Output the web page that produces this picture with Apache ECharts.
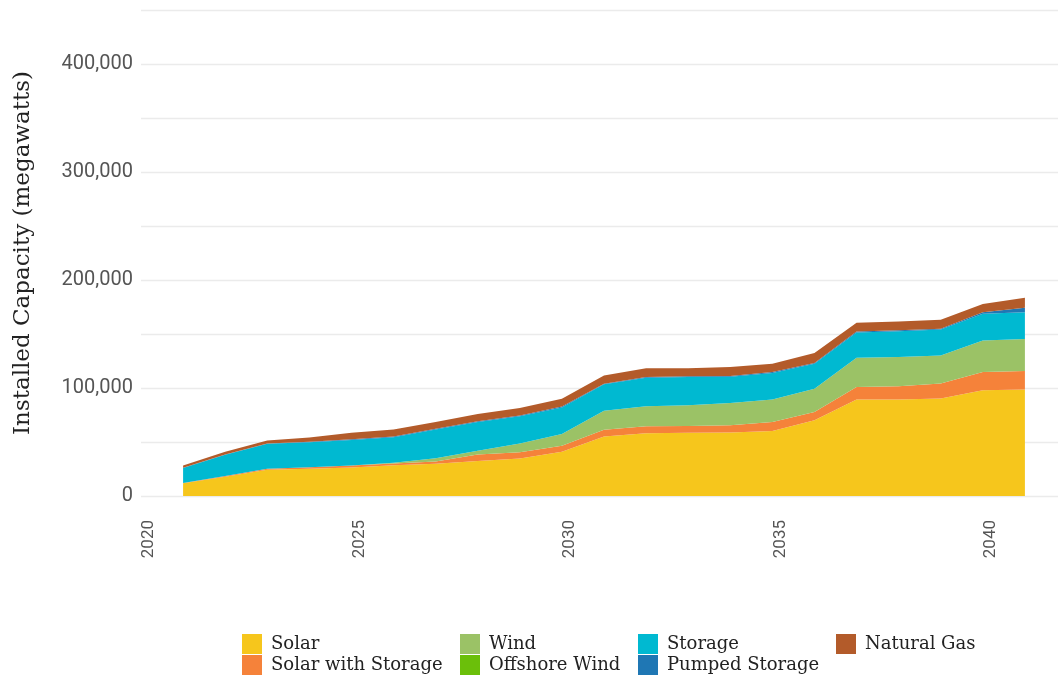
<!DOCTYPE html>
<html>
<head>
<meta charset="utf-8">
<title>Installed Capacity</title>
<script src="https://cdn.jsdelivr.net/npm/echarts@6/dist/echarts.min.js"></script>
<style>
    html, body { margin: 0; padding: 0; background: #fff; }
    #chart { width: 1058px; height: 675px; }
</style>
</head>
<body>
<div id="chart"></div>
<script>
    // years and installed capacity (MW) per resource
    var years = [2021, 2022, 2023, 2024, 2025, 2026, 2027, 2028, 2029, 2030,
                 2031, 2032, 2033, 2034, 2035, 2036, 2037, 2038, 2039, 2040, 2041];
    var solar = [11700, 17800, 24400, 25300, 26500, 28400, 29800, 32500, 34800, 41000,
                 55000, 58000, 58500, 58800, 60300, 70200, 89300, 89300, 90200, 97900, 98500];
    var solarStorage = [300, 700, 800, 1300, 1700, 1800, 2200, 6000, 5700, 5500,
                        6300, 6600, 6400, 6800, 8300, 7600, 11600, 12300, 13900, 17000, 17200];
    var offshoreWind = [0, 0, 0, 0, 0, 0, 0, 0, 0, 0, 0, 0, 0, 0, 0, 0, 0, 0, 0, 0, 0];
    var wind = [0, 0, 0, 0, 100, 500, 3000, 3500, 8100, 11000,
                17700, 18400, 19100, 20400, 20700, 21600, 27100, 27000, 26100, 29100, 29600];
    var storage = [14000, 19800, 23100, 23200, 23500, 23800, 26600, 26500, 25300, 24500,
                   24400, 26600, 26200, 24500, 24700, 23100, 23500, 24000, 23900, 24700, 24900];
    var pumpedStorage = [200, 200, 300, 500, 700, 700, 600, 700, 700, 800,
                         600, 700, 700, 700, 700, 700, 800, 800, 800, 1500, 4000];
    var naturalGas = [2100, 2400, 2800, 3900, 6000, 6300, 6400, 6800, 6900, 7200,
                      7500, 8000, 7400, 8200, 7800, 9100, 8100, 8100, 8300, 7500, 9300];

    // x axis runs a year past both ends of the data
    var axisYears = [2020].concat(years, [2042]);
    var yTicks = [0, 100000, 200000, 300000, 400000];

    var colors = {
        'Solar': '#f6c61c',
        'Solar with Storage': '#f5823a',
        'Offshore Wind': '#6bbf0a',
        'Wind': '#9bc266',
        'Storage': '#00b9d1',
        'Pumped Storage': '#1f77b4',
        'Natural Gas': '#b35b2a'
    };

    function onAxis(vals) {
        return axisYears.map(function (y) {
            var i = years.indexOf(y);
            return i >= 0 ? vals[i] : null;
        });
    }

    function area(name, vals) {
        return {
            name: name,
            type: 'line',
            stack: 'cap',
            data: onAxis(vals),
            symbol: 'none',
            lineStyle: { width: 0 },
            itemStyle: { color: colors[name] },
            areaStyle: { color: colors[name], opacity: 1 },
            emphasis: { disabled: true }
        };
    }

    function legendCol(left, names) {
        return {
            orient: 'vertical',
            left: left,
            top: 634,
            height: 60,
            padding: 0,
            itemWidth: 20,
            itemHeight: 20,
            itemGap: 1,
            icon: 'rect',
            itemStyle: { borderWidth: 0 },
            selectedMode: false,
            textStyle: {
                fontFamily: 'DejaVu Serif',
                fontSize: 18,
                lineHeight: 20,
                color: '#222',
                padding: [0, 0, 0, 4]
            },
            data: names
        };
    }

    var chart = echarts.init(document.getElementById('chart'));
    chart.setOption({
        animation: false,
        grid: { left: 141, right: -9, top: 10, bottom: 179, outerBoundsMode: 'none' },
        legend: [
            legendCol(242, ['Solar', 'Solar with Storage']),
            legendCol(460, ['Wind', 'Offshore Wind']),
            legendCol(638, ['Storage', 'Pumped Storage']),
            legendCol(836, ['Natural Gas'])
        ],
        xAxis: {
            type: 'category',
            data: axisYears.map(String),
            boundaryGap: false,
            axisLine: { show: false },
            axisTick: { show: false },
            splitLine: { show: false },
            axisLabel: {
                rotate: 90,
                margin: 24,
                verticalAlign: 'top',
                lineHeight: 16,
                fontFamily: 'Roboto',
                fontSize: 17,
                color: '#555',
                interval: function (i, v) { return Number(v) % 5 === 0; }
            }
        },
        yAxis: {
            type: 'value',
            min: 0,
            max: 450000,
            interval: 50000,
            name: 'Installed Capacity (megawatts)',
            nameLocation: 'middle',
            nameGap: 106,
            nameTextStyle: { fontFamily: 'DejaVu Serif', fontSize: 23, color: '#222' },
            axisLine: { show: false },
            axisTick: { show: false },
            splitLine: { lineStyle: { color: '#ebebeb', width: 1.3 } },
            axisLabel: {
                margin: 8,
                fontFamily: 'Roboto',
                fontSize: 20,
                color: '#555',
                formatter: function (v) {
                    return yTicks.indexOf(v) >= 0 ? v.toLocaleString('en-US') : '';
                }
            }
        },
        series: [
            area('Solar', solar),
            area('Solar with Storage', solarStorage),
            area('Offshore Wind', offshoreWind),
            area('Wind', wind),
            area('Storage', storage),
            area('Pumped Storage', pumpedStorage),
            area('Natural Gas', naturalGas)
        ]
    });
</script>
</body>
</html>
